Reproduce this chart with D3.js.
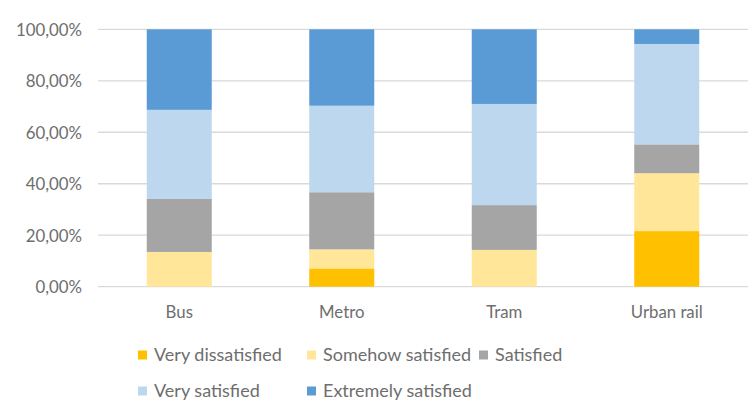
<!DOCTYPE html>
<html>
<head>
<meta charset="utf-8">
<script src="https://cdn.jsdelivr.net/npm/d3@7"></script>
<style>
  html, body { margin: 0; padding: 0; background: #fff; }
  svg { display: block; }
  text { font-family: Lato, "Open Sans", sans-serif; fill: #6e6e6e; }
</style>
</head>
<body>
<svg id="chart" width="755" height="403"></svg>
<script>
// Satisfaction shares (%) per transport mode
const modes = ["Bus", "Metro", "Tram", "Urban rail"];
const levels = ["Very dissatisfied", "Somehow satisfied", "Satisfied", "Very satisfied", "Extremely satisfied"];
const veryDissatisfied   = [0.0, 7.1, 0.0, 21.6];
const somehowSatisfied   = [13.5, 7.4, 14.3, 22.5];
const satisfied          = [20.6, 22.2, 17.4, 11.2];
const verySatisfied      = [34.6, 33.6, 39.3, 39.0];
const extremelySatisfied = [31.3, 29.7, 29.0, 5.7];
const yTicks = [0, 20, 40, 60, 80, 100];
const colors = ["#FFC000", "#FFE699", "#A5A5A5", "#BDD7EE", "#5B9BD5"];

const seriesValues = [veryDissatisfied, somehowSatisfied, satisfied, verySatisfied, extremelySatisfied];
const rows = modes.map((m, i) => {
  const r = { mode: m };
  levels.forEach((l, k) => { r[l] = seriesValues[k][i]; });
  return r;
});

const svg = d3.select("#chart");
const margin = { left: 98, right: 7, top: 29.3, bottom: 116.3 };
const W = 755, H = 403;

const x = d3.scaleBand().domain(modes)
  .range([margin.left, W - margin.right]).paddingInner(0.6).paddingOuter(0.3);
const y = d3.scaleLinear().domain([0, 100]).range([H - margin.bottom, margin.top]);

const fmt = v => v.toFixed(2).replace(".", ",") + "%";

// horizontal gridlines
svg.append("g")
  .selectAll("line").data(yTicks).join("line")
  .attr("x1", margin.left).attr("x2", W - margin.right)
  .attr("y1", d => y(d)).attr("y2", d => y(d))
  .attr("stroke", "#d9d9d9").attr("stroke-width", 1.3);

// y axis labels
const yAxis = svg.append("g")
  .attr("transform", `translate(${margin.left - 16},0)`)
  .call(d3.axisLeft(y).tickValues(yTicks).tickFormat(fmt).tickSize(0).tickPadding(0));
yAxis.select(".domain").remove();
yAxis.selectAll("text").style("font-size", "16.8px").style("fill", "#6e6e6e")
  .style("font-family", "Lato, sans-serif").attr("dy", "0.35em");

// stacked bars
const stack = d3.stack().keys(levels)(rows);
svg.append("g")
  .selectAll("g").data(stack).join("g")
  .attr("fill", (d, i) => colors[i])
  .selectAll("rect").data(d => d).join("rect")
  .attr("x", d => x(d.data.mode))
  .attr("width", x.bandwidth())
  .attr("y", d => y(d[1]))
  .attr("height", d => y(d[0]) - y(d[1]));

// x axis labels
const xAxis = svg.append("g")
  .attr("transform", `translate(0,${y(0)})`)
  .call(d3.axisBottom(x).tickSize(0).tickPadding(19));
xAxis.select(".domain").remove();
xAxis.selectAll("text").style("font-size", "16.8px").style("fill", "#6e6e6e")
  .style("font-family", "Lato, sans-serif");

// legend: two rows
const legendPos = [
  { x: 138, y: 355 }, { x: 307, y: 355 }, { x: 479, y: 355 },
  { x: 138, y: 391 }, { x: 307, y: 391 }
];
const legend = svg.append("g").selectAll("g").data(levels).join("g")
  .attr("transform", (d, i) => `translate(${legendPos[i].x},${legendPos[i].y})`);
legend.append("rect").attr("x", 0).attr("y", -4.5).attr("width", 9).attr("height", 9)
  .attr("fill", (d, i) => colors[i]);
legend.append("text").attr("x", 16).attr("dy", "0.35em")
  .style("font-size", "18px").text(d => d);
</script>
</body>
</html>
